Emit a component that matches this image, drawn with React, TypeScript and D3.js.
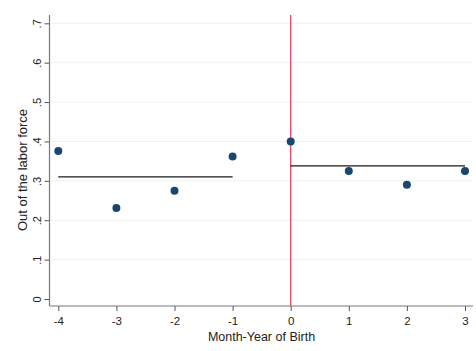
import React, { useRef, useEffect } from 'react';
import * as d3 from 'd3';

// month-year of birth relative to cutoff
const months = [-4, -3, -2, -1, 0, 1, 2, 3];
const outOfLabor = [0.376, 0.231, 0.275, 0.362, 0.4, 0.325, 0.29, 0.325];
// fitted means on each side of the cutoff
const fitLeft = { from: -4, to: -1, value: 0.31 };
const fitRight = { from: 0, to: 3, value: 0.338 };
const yTicks = [0, 0.1, 0.2, 0.3, 0.4, 0.5, 0.6, 0.7];
const xTicks = [-4, -3, -2, -1, 0, 1, 2, 3];

const App = () => {
  const svgRef = useRef(null);

  useEffect(() => {
    const svg = d3.select(svgRef.current);
    svg.selectAll('*').remove();

    const x = d3.scaleLinear().domain([-4, 3]).range([58.3, 465]);
    const y = d3.scaleLinear().domain([0, 0.7]).range([299, 23.3]);
    const axisX = 49.5;
    const axisY = 306;
    const top = 15;
    const right = 473;
    const font = 'Arial, Liberation Sans, sans-serif';

    // gridlines
    svg
      .selectAll('.grid')
      .data(yTicks.slice(1))
      .enter()
      .append('line')
      .attr('x1', axisX)
      .attr('x2', right)
      .attr('y1', (d) => y(d))
      .attr('y2', (d) => y(d))
      .attr('stroke', '#eaf2f3')
      .attr('stroke-width', 1);

    // y axis
    const yAxis = svg
      .append('g')
      .attr('transform', `translate(${axisX},0)`)
      .call(
        d3
          .axisLeft(y)
          .tickValues(yTicks)
          .tickSize(5)
          .tickFormat((d) => (d === 0 ? '0' : d3.format('.1f')(d).replace(/^0/, '')))
      );
    yAxis.select('.domain').remove();
    yAxis.selectAll('line').attr('stroke', '#555');
    yAxis
      .selectAll('.tick text')
      .attr('transform', 'translate(-9,0) rotate(-90)')
      .attr('x', 0)
      .attr('y', 0)
      .attr('dy', '0')
      .attr('text-anchor', 'middle')
      .attr('fill', '#222')
      .style('font-size', '11px')
      .style('font-family', font);

    svg
      .append('line')
      .attr('x1', axisX)
      .attr('x2', axisX)
      .attr('y1', top)
      .attr('y2', axisY)
      .attr('stroke', '#777')
      .attr('stroke-width', 1.2);

    // x axis
    const xAxis = svg
      .append('g')
      .attr('transform', `translate(0,${axisY})`)
      .call(d3.axisBottom(x).tickValues(xTicks).tickSize(5).tickFormat((d) => String(d)));
    xAxis.select('.domain').remove();
    xAxis.selectAll('line').attr('stroke', '#555');
    xAxis
      .selectAll('text')
      .attr('y', 11)
      .attr('dy', '0.71em')
      .attr('fill', '#222')
      .style('font-size', '11.5px')
      .style('font-family', font);

    svg
      .append('line')
      .attr('x1', axisX)
      .attr('x2', right)
      .attr('y1', axisY)
      .attr('y2', axisY)
      .attr('stroke', '#777')
      .attr('stroke-width', 1.2);

    // cutoff line
    svg
      .append('line')
      .attr('x1', x(0))
      .attr('x2', x(0))
      .attr('y1', top)
      .attr('y2', axisY)
      .attr('stroke', '#e0456b')
      .attr('stroke-width', 1.3);

    // fitted lines
    svg
      .selectAll('.fit')
      .data([fitLeft, fitRight])
      .enter()
      .append('line')
      .attr('x1', (d) => x(d.from))
      .attr('x2', (d) => x(d.to))
      .attr('y1', (d) => y(d.value))
      .attr('y2', (d) => y(d.value))
      .attr('stroke', '#1a1a1a')
      .attr('stroke-width', 1.2);

    // points
    svg
      .selectAll('.dot')
      .data(months)
      .enter()
      .append('circle')
      .attr('cx', (d) => x(d))
      .attr('cy', (d, i) => y(outOfLabor[i]))
      .attr('r', 4)
      .attr('fill', '#1a476f');

    // axis titles
    svg
      .append('text')
      .attr('x', 261.5)
      .attr('y', 341)
      .attr('text-anchor', 'middle')
      .attr('fill', '#222')
      .style('font-size', '12.5px')
      .style('font-family', font)
      .text('Month-Year of Birth');

    svg
      .append('text')
      .attr('transform', `translate(27,170) rotate(-90)`)
      .attr('text-anchor', 'middle')
      .attr('fill', '#222')
      .style('font-size', '13px')
      .style('font-family', font)
      .text('Out of the labor force');
  }, []);

  return (
    <div style={{ position: 'absolute', left: 0, top: 0 }}>
      <svg ref={svgRef} width={476} height={351} style={{ display: 'block', background: '#fff' }}></svg>
    </div>
  );
};

export default App;
